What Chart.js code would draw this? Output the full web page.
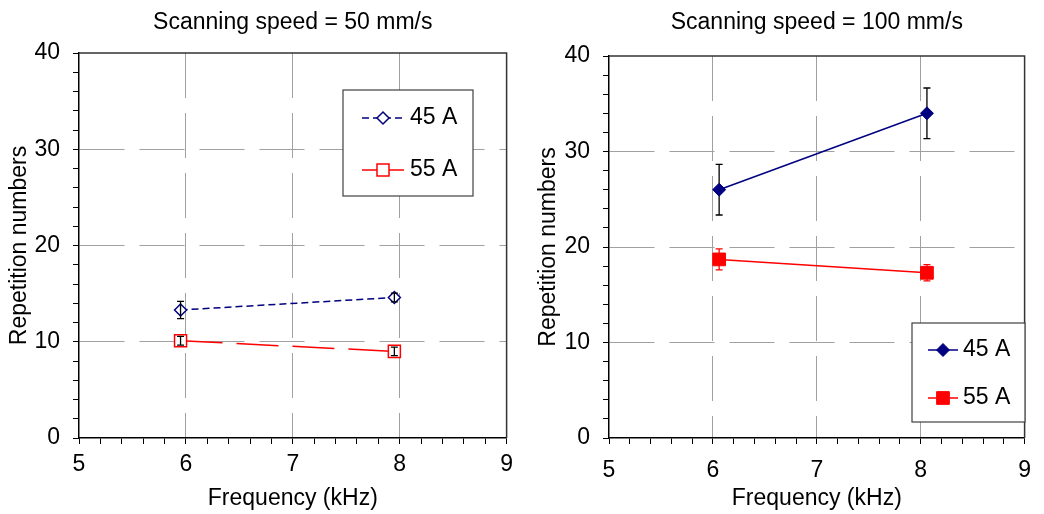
<!DOCTYPE html>
<html>
<head>
<meta charset="utf-8">
<script src="https://cdn.jsdelivr.net/npm/chart.js@4/dist/chart.umd.min.js"></script>
<style>
  html, body { margin: 0; padding: 0; background: #fff; }
  .panel { position: absolute; top: 0; }
</style>
</head>
<body>
<div class="panel" style="left:0"><canvas id="speed50" width="520" height="514"></canvas></div>
<div class="panel" style="left:520px"><canvas id="speed100" width="524" height="514"></canvas></div>
<script>
// scanning speed 50 mm/s
const freq50 = [5.95, 7.95];
const rep45_50 = [13.3, 14.6];
const err45_50 = [0.9, 0.45];
const rep55_50 = [10.1, 9.0];
const err55_50 = [0.45, 0.45];

// scanning speed 100 mm/s
const freq100 = [6.06, 8.06];
const rep45_100 = [26.0, 34.0];
const err45_100 = [2.65, 2.65];
const rep55_100 = [18.7, 17.3];
const err55_100 = [1.1, 0.85];

const seriesLabels = ['45 A', '55 A'];
const xTicks = [5, 6, 7, 8, 9];
const yTicks = [0, 10, 20, 30, 40];

const FONT = 'Arial, "Liberation Sans", sans-serif';
const NAVY = '#000080';
const RED = '#ff0000';

const isMultiple = (v, s) => Math.abs(v / s - Math.round(v / s)) < 1e-6;
const points = (xs, ys) => xs.map((x, i) => ({ x: x, y: ys[i] }));

// grey grid only on the inner major ticks, minor ticks keep just their tick mark
function gridColor(step, lo, hi) {
  return (ctx) => {
    const v = ctx.tick ? ctx.tick.value : null;
    if (v === null || v <= lo + 1e-6 || v >= hi - 1e-6) return 'rgba(0,0,0,0)';
    return isMultiple(v, step) ? '#a0a0a0' : 'rgba(0,0,0,0)';
  };
}

function drawErrors(chart, behind) {
  const { ctx, scales: { x, y } } = chart;
  chart.data.datasets.forEach((ds) => {
    if (!ds.errors || !!ds.errorsBehind !== behind) return;
    ctx.save();
    ctx.strokeStyle = ds.errorColor;
    ctx.lineWidth = 1.3;
    ds.data.forEach((p, j) => {
      const px = x.getPixelForValue(p.x);
      const top = y.getPixelForValue(p.y + ds.errors[j]);
      const bot = y.getPixelForValue(p.y - ds.errors[j]);
      ctx.beginPath();
      ctx.moveTo(px, top); ctx.lineTo(px, bot);
      ctx.moveTo(px - 3.5, top); ctx.lineTo(px + 3.5, top);
      ctx.moveTo(px - 3.5, bot); ctx.lineTo(px + 3.5, bot);
      ctx.stroke();
    });
    ctx.restore();
  });
}

const errorBars = {
  id: 'errorBars',
  beforeDatasetsDraw(chart) { drawErrors(chart, true); },
  afterDatasetsDraw(chart) { drawErrors(chart, false); }
};

// top and right edges of the plot box, plus the heading centred over the plot
const plotFrame = {
  id: 'plotFrame',
  afterDraw(chart, args, opts) {
    const { ctx, chartArea: a } = chart;
    ctx.save();
    ctx.strokeStyle = '#333';
    ctx.lineWidth = 1.5;
    ctx.beginPath();
    ctx.moveTo(a.left, a.top);
    ctx.lineTo(a.right, a.top);
    ctx.lineTo(a.right, a.bottom);
    ctx.stroke();
    if (opts.heading) {
      ctx.fillStyle = '#000';
      ctx.font = '23px ' + FONT;
      ctx.textAlign = 'center';
      ctx.textBaseline = 'middle';
      ctx.fillText(opts.heading, (a.left + a.right) / 2, opts.headingY);
    }
    ctx.restore();
  }
};

// legend drawn as a framed box inside the plot
const boxLegend = {
  id: 'boxLegend',
  afterDraw(chart, args, opts) {
    if (!opts.box) return;
    const ctx = chart.ctx;
    const [bx, by, bw, bh] = opts.box;
    ctx.save();
    ctx.fillStyle = '#fff';
    ctx.fillRect(bx, by, bw, bh);
    ctx.strokeStyle = '#404040';
    ctx.lineWidth = 1.2;
    ctx.strokeRect(bx, by, bw, bh);
    chart.data.datasets.forEach((ds, i) => {
      const y = opts.rows[i];
      const [x0, x1] = opts.line;
      ctx.strokeStyle = ds.borderColor;
      ctx.lineWidth = ds.borderWidth;
      ctx.setLineDash(ds.borderDash || []);
      ctx.beginPath();
      ctx.moveTo(x0, y);
      ctx.lineTo(x1, y);
      ctx.stroke();
      ctx.setLineDash([]);
      ctx.fillStyle = ds.pointBackgroundColor;
      ctx.strokeStyle = ds.pointBorderColor;
      ctx.lineWidth = ds.pointBorderWidth;
      Chart.helpers.drawPoint(ctx, {
        pointStyle: ds.pointStyle, radius: ds.pointRadius, rotation: 0, borderWidth: ds.pointBorderWidth
      }, (x0 + x1) / 2, y);
      ctx.fillStyle = '#000';
      ctx.font = '23px ' + FONT;
      ctx.textBaseline = 'middle';
      ctx.textAlign = 'left';
      ctx.fillText(ds.label, opts.textX, y);
    });
    ctx.restore();
  }
};

Chart.register(errorBars, plotFrame, boxLegend);

function axes(yWidth, yTitlePad, xTickPad) {
  return {
    x: {
      type: 'linear', min: xTicks[0], max: xTicks[xTicks.length - 1],
      ticks: {
        stepSize: 0.2, autoSkip: false, maxRotation: 0, padding: xTickPad,
        color: '#000', font: { family: FONT, size: 23 },
        callback: (v) => (xTicks.some((t) => Math.abs(t - v) < 1e-6) ? String(Math.round(v)) : '')
      },
      grid: { color: gridColor(1, 5, 9), tickColor: '#000', tickLength: 6, lineWidth: 1 },
      border: { color: '#000', width: 1.5, dash: [45, 15] },
      title: {
        display: true, text: 'Frequency (kHz)', color: '#000',
        font: { family: FONT, size: 23 }, padding: { top: 0, bottom: 2 }
      },
      afterFit: (s) => { s.height = 76; }
    },
    y: {
      type: 'linear', min: yTicks[0], max: yTicks[yTicks.length - 1],
      ticks: {
        stepSize: 2, autoSkip: false, padding: 13,
        color: '#000', font: { family: FONT, size: 23 },
        callback: (v) => (yTicks.some((t) => Math.abs(t - v) < 1e-6) ? String(Math.round(v)) : '')
      },
      grid: { color: gridColor(10, 0, 40), tickColor: '#000', tickLength: 6, lineWidth: 1 },
      border: { color: '#000', width: 1.5, dash: [45, 15] },
      title: {
        display: true, text: 'Repetition numbers', color: '#000',
        font: { family: FONT, size: 23 }, padding: { top: yTitlePad, bottom: 0 }
      },
      afterFit: (s) => { s.width = yWidth; }
    }
  };
}

new Chart(document.getElementById('speed50'), {
  type: 'scatter',
  data: {
    datasets: [
      {
        label: seriesLabels[0], data: points(freq50, rep45_50), showLine: true,
        borderColor: NAVY, borderWidth: 1.5, borderDash: [7, 4],
        pointStyle: 'rectRot', pointRadius: 6, pointBackgroundColor: '#fff',
        pointBorderColor: NAVY, pointBorderWidth: 1.5,
        errors: err45_50, errorColor: '#000', errorsBehind: false
      },
      {
        label: seriesLabels[1], data: points(freq50, rep55_50), showLine: true,
        borderColor: RED, borderWidth: 1.5, borderDash: [42, 14],
        pointStyle: 'rect', pointRadius: 8.5, pointBackgroundColor: '#fff',
        pointBorderColor: RED, pointBorderWidth: 1.5,
        errors: err55_50, errorColor: '#000', errorsBehind: false
      }
    ]
  },
  options: {
    responsive: false, animation: false, events: [],
    layout: { padding: { left: 0, right: 13, top: 53, bottom: 0 } },
    scales: axes(79, 6, 7),
    plugins: {
      legend: { display: false },
      tooltip: { enabled: false },
      title: { display: false },
      plotFrame: { heading: 'Scanning speed = 50 mm/s', headingY: 23 },
      boxLegend: { box: [343, 90, 130, 106], rows: [118, 170], line: [362, 404], textX: 410 }
    }
  }
});

new Chart(document.getElementById('speed100'), {
  type: 'scatter',
  data: {
    datasets: [
      {
        label: seriesLabels[0], data: points(freq100, rep45_100), showLine: true,
        borderColor: NAVY, borderWidth: 1.5,
        pointStyle: 'rectRot', pointRadius: 6.5, pointBackgroundColor: NAVY,
        pointBorderColor: NAVY, pointBorderWidth: 1,
        errors: err45_100, errorColor: '#000', errorsBehind: true
      },
      {
        label: seriesLabels[1], data: points(freq100, rep55_100), showLine: true,
        borderColor: RED, borderWidth: 1.5,
        pointStyle: 'rect', pointRadius: 9, pointBackgroundColor: RED,
        pointBorderColor: RED, pointBorderWidth: 1,
        errors: err55_100, errorColor: RED, errorsBehind: true
      }
    ]
  },
  options: {
    responsive: false, animation: false, events: [],
    layout: { padding: { left: 0, right: 7, top: 56, bottom: 0 } },
    scales: axes(89, 15, 13),
    plugins: {
      legend: { display: false },
      tooltip: { enabled: false },
      title: { display: false },
      plotFrame: { heading: 'Scanning speed = 100 mm/s', headingY: 23 },
      boxLegend: { box: [392, 323, 113, 99], rows: [350, 398], line: [408, 438], textX: 443 }
    }
  }
});
</script>
</body>
</html>
